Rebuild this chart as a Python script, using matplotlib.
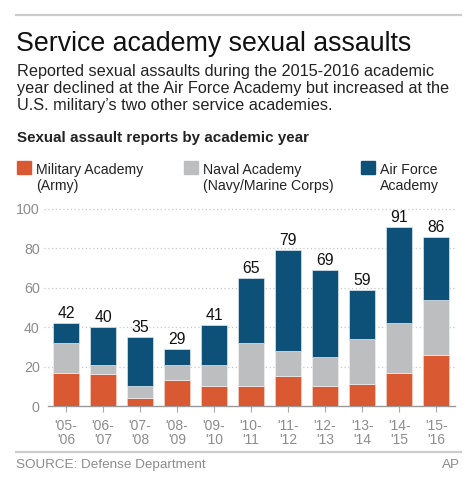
import matplotlib
matplotlib.use("Agg")
import matplotlib.pyplot as plt
from matplotlib.patches import Rectangle
from matplotlib.lines import Line2D

plt.rcParams['font.family'] = ['Liberation Sans', 'DejaVu Sans']

years = ["'05-\n'06", "'06-\n'07", "'07-\n'08", "'08-\n'09", "'09-\n'10", "'10-\n'11",
         "'11-\n'12", "'12-\n'13", "'13-\n'14", "'14-\n'15", "'15-\n'16"]
army = [17, 16, 4, 13, 10, 10, 15, 10, 11, 17, 26]
navy = [15, 5, 6, 8, 11, 22, 13, 15, 23, 25, 28]
airforce = [10, 19, 25, 8, 20, 33, 51, 44, 25, 49, 32]
totals = [42, 40, 35, 29, 41, 65, 79, 69, 59, 91, 86]
series_names = ["Military Academy\n(Army)", "Naval Academy\n(Navy/Marine Corps)", "Air Force\nAcademy"]
yticks = [0, 20, 40, 60, 80, 100]

C_ARMY = '#d95a32'
C_NAVY = '#bdbebf'
C_AF = '#0e5178'
GRAY_TXT = '#8c8c8c'

W, H = 469, 492
fig = plt.figure(figsize=(W / 100, H / 100), dpi=100)

def fx(px):
    return px / W

def fy(py):
    return 1 - py / H

# top rule
fig.add_artist(Line2D([fx(16), fx(461)], [fy(15), fy(15)], color='#cccccc', lw=1.6))

fig.text(fx(16), fy(51), "Service academy sexual assaults", fontsize=19.3,
         va='baseline', ha='left', color='#111111')
sub = ["Reported sexual assaults during the 2015-2016 academic",
       "year declined at the Air Force Academy but increased at the",
       "U.S. military\u2019s two other service academies."]
for i, line in enumerate(sub):
    fig.text(fx(17), fy(76 + i * 17), line, fontsize=11.7, va='baseline', ha='left', color='#222222')

fig.text(fx(17), fy(142), "Sexual assault reports by academic year", fontsize=10.9,
         fontweight='bold', va='baseline', ha='left', color='#222222')

# legend
leg = [(17, C_ARMY, series_names[0]), (184, C_NAVY, series_names[1]), (361, C_AF, series_names[2])]
for x0, c, name in leg:
    fig.add_artist(Rectangle((fx(x0), fy(174)), fx(14), 13 / H, color=c, transform=fig.transFigure))
    l1, l2 = name.split("\n")
    fig.text(fx(x0 + 19), fy(174), l1, fontsize=10.2, va='baseline', ha='left', color='#222222')
    fig.text(fx(x0 + 19), fy(190), l2, fontsize=10.2, va='baseline', ha='left', color='#222222')

# axes
ax = fig.add_axes([fx(48), fy(406), fx(455) - fx(48), fy(209) - fy(406)])
x = list(range(len(years)))
bw = 0.70
navy_bottom = army
af_bottom = [a + n for a, n in zip(army, navy)]
ax.bar(x, army, width=bw, color=C_ARMY, edgecolor='#f3d0c4', linewidth=0.5, zorder=3)
ax.bar(x, navy, width=bw, bottom=navy_bottom, color=C_NAVY, edgecolor='#f0f0f0', linewidth=0.5, zorder=3)
ax.bar(x, airforce, width=bw, bottom=af_bottom, color=C_AF, edgecolor='#d8e6ee', linewidth=0.5, zorder=3)
for xi, t in zip(x, totals):
    ax.text(xi, t + 1.0, str(t), ha='center', va='bottom', fontsize=11.3, color='#111111')

ax.set_xlim(-0.486, 10.51)
ax.set_ylim(0, 100)
for s in ['top', 'right', 'left']:
    ax.spines[s].set_visible(False)
ax.spines['bottom'].set_color('#999999')
ax.spines['bottom'].set_linewidth(1.0)
ax.set_yticks(yticks)
ax.set_yticklabels([str(v) for v in yticks])
ax.tick_params(axis='y', length=0, pad=6, labelsize=10.3, labelcolor=GRAY_TXT)
ax.set_xticks(x)
ax.set_xticklabels(years, linespacing=1.05)
ax.tick_params(axis='x', length=4, width=0.8, color='#aaaaaa', pad=5, labelsize=10, labelcolor=GRAY_TXT)
for v in yticks[1:]:
    ax.plot([-0.6, 10.51], [v, v], ls=(0, (1, 2)), color='#c8c8c8', lw=0.9, zorder=1, clip_on=False)

# bottom rule and source
fig.add_artist(Line2D([fx(16), fx(461)], [fy(452), fy(452)], color='#cccccc', lw=1.6))
fig.text(fx(16), fy(468), "SOURCE: Defense Department", fontsize=9.7, va='baseline', ha='left', color=GRAY_TXT)
fig.text(fx(460), fy(468), "AP", fontsize=9.7, va='baseline', ha='right', color=GRAY_TXT)

fig.savefig("out.png", dpi=100, facecolor='white')
